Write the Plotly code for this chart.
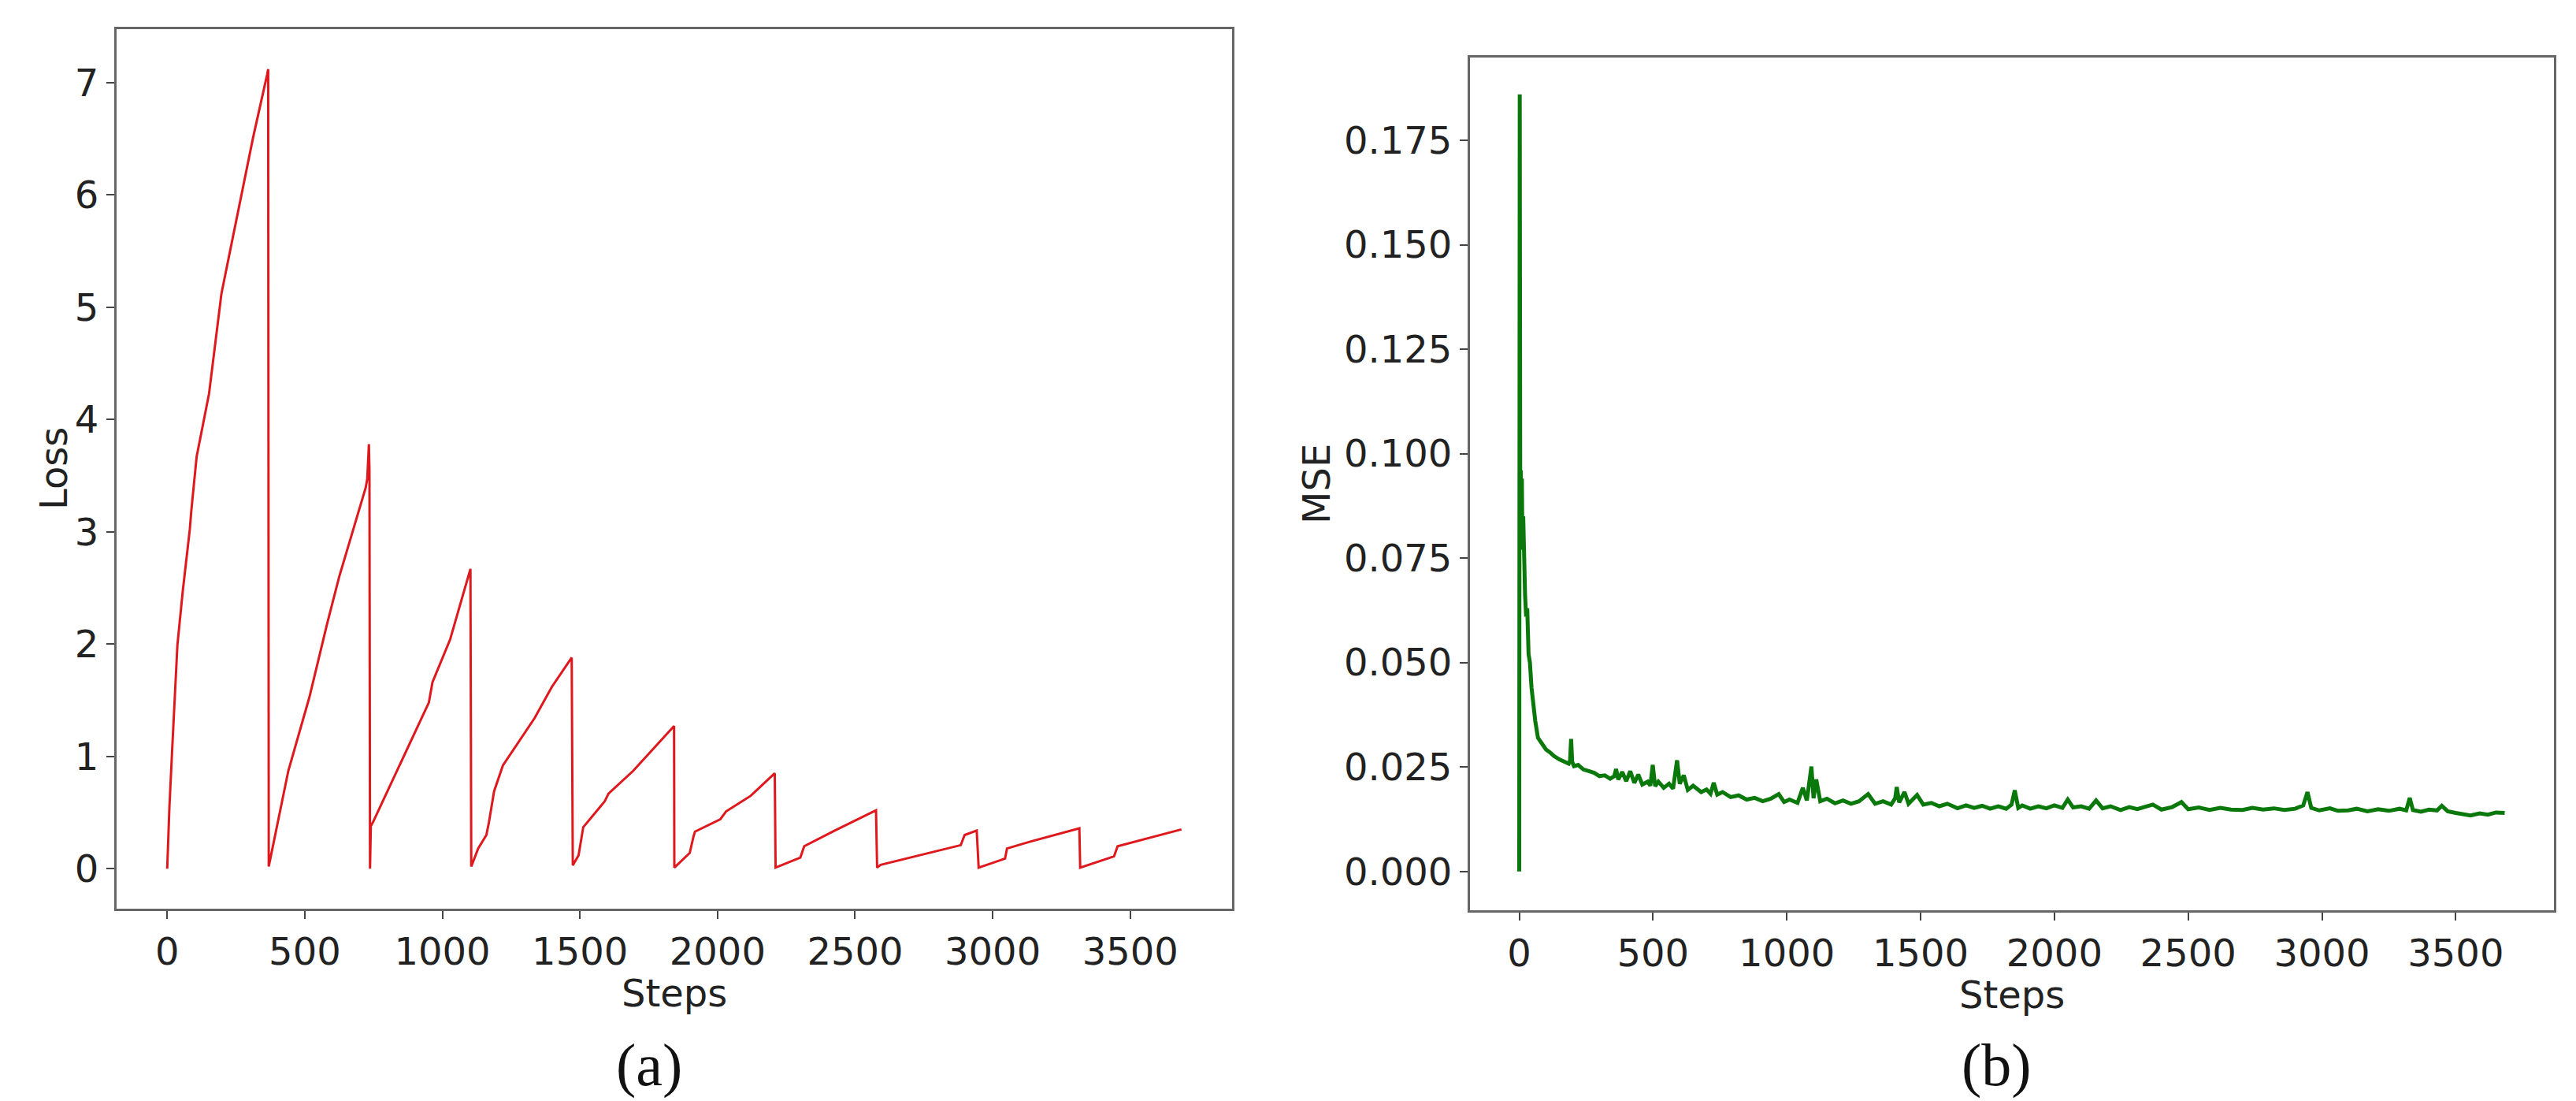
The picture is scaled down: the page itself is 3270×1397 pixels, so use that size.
"""
Training curves: (a) loss with periodic resets, (b) MSE over steps.
"""

import plotly.graph_objects as go

# (a) Loss
loss_steps = [0, 8, 18, 37, 56, 82, 88, 107, 152, 197, 235, 274, 312, 363, 367,
              369, 440, 517, 581, 625, 721, 727, 733, 735,
              737, 740, 747, 951, 964, 1028, 1099, 1102,
              1105, 1123, 1130, 1160, 1169, 1188, 1220, 1335, 1398, 1470,
              1474, 1495, 1507, 1512, 1590, 1604, 1693, 1839, 1842,
              1843, 1899, 1913, 1918, 2010, 2031, 2121, 2208,
              2211, 2301, 2315, 2426, 2576,
              2580, 2593, 2884, 2898, 2942,
              2949, 3045, 3052, 3134, 3315,
              3318, 3441, 3454, 3686]
loss_values = [0.0, 0.55, 1.06, 1.99, 2.46, 3.02, 3.2, 3.67, 4.23, 5.12, 5.58, 6.05, 6.51, 7.07, 7.12,
               0.02, 0.87, 1.53, 2.18, 2.6, 3.39, 3.47, 3.78, 3.55,
               0.0, 0.38, 0.41, 1.48, 1.66, 2.04, 2.65, 2.67,
               0.02, 0.13, 0.18, 0.30, 0.41, 0.69, 0.92, 1.34, 1.62, 1.88,
               0.03, 0.12, 0.32, 0.37, 0.6, 0.67, 0.87, 1.26, 1.27,
               0.01, 0.14, 0.29, 0.33, 0.44, 0.51, 0.65, 0.85,
               0.01, 0.10, 0.20, 0.34, 0.52,
               0.01, 0.035, 0.21, 0.30, 0.34,
               0.01, 0.09, 0.18, 0.24, 0.36,
               0.01, 0.11, 0.20, 0.35]

# (b) MSE
mse_steps = [0, 2, 4, 6, 8, 10, 12, 15, 18, 22, 26, 30, 35, 40, 46, 52, 60, 70, 80, 90,
             100, 115, 130, 150, 170, 185, 190, 194, 198, 205, 220, 240, 260, 280, 300,
             320, 340, 355, 362, 370, 385, 400, 415, 430, 445, 460, 480, 490, 499, 508,
             520, 540, 560, 575, 590, 600, 615, 630, 650, 680, 700, 715, 727, 740, 760,
             790, 820, 850, 880, 910, 940, 970, 990, 1010, 1040, 1060, 1075, 1085, 1092,
             1100, 1110, 1125, 1150, 1180, 1210, 1240, 1270, 1304, 1330, 1360, 1390,
             1405, 1411, 1420, 1440, 1455, 1487, 1510, 1540, 1570, 1600, 1638, 1670,
             1700, 1730, 1760, 1790, 1820, 1840, 1852, 1865, 1880, 1910, 1940, 1970,
             2000, 2030, 2050, 2070, 2100, 2130, 2156, 2180, 2210, 2247, 2280, 2310,
             2340, 2368, 2400, 2440, 2475, 2500, 2540, 2580, 2620, 2660, 2703, 2740,
             2780, 2820, 2860, 2900, 2930, 2946, 2960, 2990, 3030, 3060, 3098, 3130,
             3170, 3210, 3250, 3290, 3315, 3328, 3340, 3370, 3400, 3430, 3448, 3470,
             3500, 3530, 3555, 3590, 3620, 3650, 3683]
mse_values = [0.0, 0.186, 0.080, 0.096, 0.077, 0.094, 0.078, 0.085, 0.072, 0.066, 0.061, 0.063,
              0.052, 0.050, 0.044, 0.040, 0.036, 0.032, 0.031, 0.030,
              0.0292, 0.0285, 0.0276, 0.0268, 0.0262, 0.0258, 0.0265, 0.0317, 0.0262, 0.0252,
              0.0255, 0.0244, 0.0240, 0.0236, 0.0228,
              0.0230, 0.0222, 0.0228, 0.0245, 0.0220, 0.0238, 0.0216, 0.0240, 0.0212, 0.0232,
              0.0208, 0.0215, 0.0205, 0.0255, 0.0204,
              0.0215, 0.0200, 0.0210, 0.0198, 0.0266, 0.0210, 0.0230, 0.0195, 0.0205, 0.0190,
              0.0196, 0.0186, 0.0212, 0.0184, 0.0190,
              0.0178, 0.0182, 0.0172, 0.0176, 0.0168, 0.0174, 0.0185, 0.0166, 0.0172, 0.0164,
              0.0200, 0.0170, 0.0215, 0.0251,
              0.0175, 0.0220, 0.0168, 0.0174, 0.0163, 0.0170, 0.0162, 0.0168, 0.0185, 0.0162,
              0.0168, 0.0160,
              0.0175, 0.0202, 0.0165, 0.0190, 0.0162, 0.0183, 0.0160, 0.0164, 0.0156, 0.0162,
              0.0151, 0.0158,
              0.0152, 0.0157, 0.0150, 0.0156, 0.0150, 0.0160, 0.0194, 0.0152, 0.0158, 0.0150,
              0.0156, 0.0151,
              0.0158, 0.0152, 0.0172, 0.0153, 0.0156, 0.0150, 0.0170, 0.0151, 0.0156, 0.0147,
              0.0154, 0.0149,
              0.0155, 0.0160, 0.0148, 0.0154, 0.0166, 0.0149, 0.0153, 0.0147, 0.0152, 0.0148,
              0.0147, 0.0152,
              0.0148, 0.0151, 0.0147, 0.0150, 0.0158, 0.0190, 0.0152, 0.0146, 0.0151, 0.0145,
              0.0146, 0.0150,
              0.0144, 0.0149, 0.0145, 0.0150, 0.0146, 0.0176, 0.0147, 0.0143, 0.0148, 0.0146,
              0.0157, 0.0144,
              0.0140, 0.0138, 0.0134, 0.0139, 0.0136, 0.0141, 0.0140]

x_ticks = [0, 500, 1000, 1500, 2000, 2500, 3000, 3500]
loss_ticks = [0, 1, 2, 3, 4, 5, 6, 7]
mse_ticks = [0.0, 0.025, 0.05, 0.075, 0.1, 0.125, 0.15, 0.175]

W, H = 3270, 1397
FONT = "DejaVu Sans"
TEXT_COLOR = "#222222"
FRAME = "#666666"


def px_x(v):
    return v / W


def px_y(v):
    return 1 - v / H


def axis_style(**kw):
    base = dict(
        showline=True, linecolor=FRAME, linewidth=3, mirror=True,
        ticks="outside", ticklen=10, tickwidth=2, tickcolor="#444444",
        showgrid=False, zeroline=False,
        tickfont=dict(family=FONT, size=48, color=TEXT_COLOR),
    )
    base.update(kw)
    return base


fig = go.Figure()

fig.add_trace(go.Scatter(
    x=loss_steps, y=loss_values, mode="lines",
    line=dict(color="rgb(222,24,28)", width=3),
    xaxis="x", yaxis="y", showlegend=False,
))

fig.add_trace(go.Scatter(
    x=mse_steps, y=mse_values, mode="lines",
    line=dict(color="rgb(10,120,10)", width=5),
    xaxis="x2", yaxis="y2", showlegend=False,
))

fig.update_layout(
    width=W, height=H,
    margin=dict(l=0, r=0, t=0, b=0),
    paper_bgcolor="white", plot_bgcolor="white",
    xaxis=axis_style(domain=[px_x(140), px_x(1556)], range=[-184, 3870],
                     tickvals=x_ticks, anchor="y"),
    yaxis=axis_style(domain=[px_y(1145), px_y(29)], range=[-0.356, 7.476],
                     tickvals=loss_ticks, anchor="x"),
    xaxis2=axis_style(domain=[px_x(1858), px_x(3234)], range=[-184, 3867],
                      tickvals=x_ticks, anchor="y2"),
    yaxis2=axis_style(domain=[px_y(1147), px_y(65)], range=[-0.0093, 0.1948],
                      tickvals=mse_ticks, tickformat=".3f", anchor="x2"),
)

label_font = dict(family=FONT, size=48, color=TEXT_COLOR)
caption_font = dict(family="Liberation Serif", size=76, color="#111111")

annotations = [
    dict(text="Loss", x=px_x(60), y=px_y(587), textangle=-90, font=label_font),
    dict(text="MSE", x=px_x(1663), y=px_y(606), textangle=-90, font=label_font),
    dict(text="Steps", x=px_x(848), y=px_y(1252), font=label_font),
    dict(text="Steps", x=px_x(2546), y=px_y(1254), font=label_font),
    dict(text="(a)", x=px_x(816), y=px_y(1343), font=caption_font),
    dict(text="(b)", x=px_x(2526), y=px_y(1343), font=caption_font),
]
for a in annotations:
    fig.add_annotation(xref="paper", yref="paper", showarrow=False,
                       xanchor="center", yanchor="middle", **a)

fig.write_html("out.html")
